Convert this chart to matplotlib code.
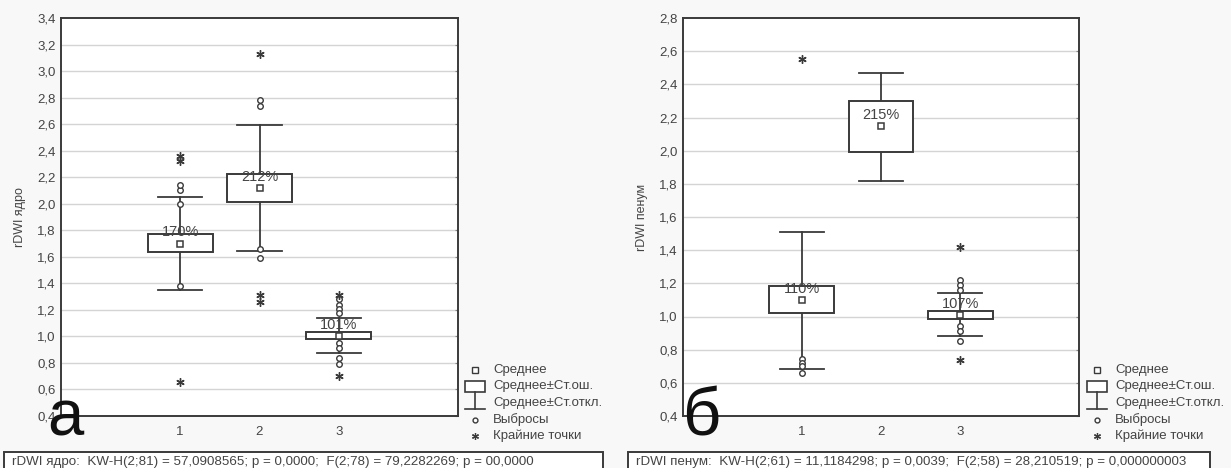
import matplotlib
matplotlib.use("Agg")
import matplotlib.pyplot as plt
from matplotlib.patches import Rectangle

plt.rcParams['font.family'] = ['Liberation Sans', 'DejaVu Sans']

# --- данные ---
groups = [1, 2, 3]

# а) rDWI ядро
core_mean = [1.70, 2.12, 1.005]
core_se_lo = [1.635, 2.01, 0.98]
core_se_hi = [1.775, 2.225, 1.03]
core_sd_lo = [1.35, 1.645, 0.875]
core_sd_hi = [2.05, 2.595, 1.14]
core_outliers = [[2.00, 2.10, 2.14, 1.38],
                 [2.74, 2.78, 1.657, 1.59],
                 [1.28, 1.24, 1.21, 1.18, 0.95, 0.91, 0.84, 0.79]]
core_extremes = [[2.32, 2.36, 0.655],
                 [3.13, 1.31, 1.26],
                 [1.31, 0.70]]
core_labels = ['170%', '212%', '101%']
core_stats = ("rDWI ядро:  KW-H(2;81) = 57,0908565; p = 0,0000;  "
              "F(2;78) = 79,2282269; p = 00,0000")

# б) rDWI пенумбра
pen_mean = [1.10, 2.15, 1.01]
pen_se_lo = [1.02, 1.99, 0.985]
pen_se_hi = [1.185, 2.30, 1.035]
pen_sd_lo = [0.685, 1.82, 0.88]
pen_sd_hi = [1.51, 2.47, 1.14]
pen_outliers = [[0.745, 0.72, 0.70, 0.66],
                [],
                [1.22, 1.19, 1.16, 0.94, 0.91, 0.855]]
pen_extremes = [[2.55],
                [],
                [1.42, 0.74]]
pen_labels = ['110%', '215%', '107%']
pen_stats = ("rDWI пенум:  KW-H(2;61) = 11,1184298; p = 0,0039;  "
             "F(2;58) = 28,210519; p = 0,000000003")

legend_labels = ['Среднее', 'Среднее±Ст.ош.', 'Среднее±Ст.откл.',
                 'Выбросы', 'Крайние точки']

W, H = 1231, 468
LINE = '#3a3a3a'
TXT = '#444444'
STAR = (6, 2, 0)

fig = plt.figure(figsize=(W / 100, H / 100), dpi=100, facecolor='#f8f8f8')


def px(x0, y0, x1, y1):
    return [x0 / W, 1 - y1 / H, (x1 - x0) / W, (y1 - y0) / H]


def draw_panel(ax, mean, se_lo, se_hi, sd_lo, sd_hi, outl, extr, labels,
               ylim, ylabel, yticks):
    ax.set_facecolor('white')
    ax.set_xlim(-0.5, 4.5)
    ax.set_ylim(*ylim)
    ax.set_yticks(yticks)
    ax.set_yticklabels([f"{t:.1f}".replace('.', ',') for t in yticks],
                       fontsize=9.5, color=TXT)
    ax.set_xticks(groups)
    ax.set_xticklabels([str(g) for g in groups], fontsize=9.5, color=TXT)
    ax.tick_params(axis='x', length=0, pad=7)
    ax.tick_params(axis='y', left=False, right=True, direction='in',
                   length=2, color='#888888', pad=4)
    for t in yticks[1:-1]:
        ax.axhline(t, color='#d4d4d4', lw=1.0, zorder=0)
    for s in ax.spines.values():
        s.set_color(LINE)
        s.set_linewidth(1.4)
    ax.set_ylabel(ylabel, fontsize=9, color=TXT, labelpad=8)

    bw, cw = 0.82, 0.56
    for i, g in enumerate(groups):
        # усы (среднее ± ст. откл.)
        ax.plot([g, g], [sd_lo[i], se_lo[i]], color=LINE, lw=1.3, zorder=2)
        ax.plot([g, g], [se_hi[i], sd_hi[i]], color=LINE, lw=1.3, zorder=2)
        ax.plot([g - cw / 2, g + cw / 2], [sd_lo[i]] * 2, color=LINE, lw=1.3, zorder=2)
        ax.plot([g - cw / 2, g + cw / 2], [sd_hi[i]] * 2, color=LINE, lw=1.3, zorder=2)
        # прямоугольник (среднее ± ст. ош.)
        ax.add_patch(Rectangle((g - bw / 2, se_lo[i]), bw, se_hi[i] - se_lo[i],
                               facecolor='white', edgecolor=LINE, lw=1.4, zorder=3))
        # среднее
        ax.plot(g, mean[i], 's', ms=4.5, mfc='white', mec=LINE, mew=1.1, zorder=4)
        ax.annotate(labels[i], (g, mean[i]), xytext=(0, 8), textcoords='offset points',
                    ha='center', va='center', fontsize=10.5, color=TXT, zorder=5)
        # выбросы и крайние точки
        if outl[i]:
            ax.plot([g] * len(outl[i]), outl[i], 'o', ms=4, mfc='white', mec=LINE,
                    mew=1.0, zorder=4)
        if extr[i]:
            ax.plot([g] * len(extr[i]), extr[i], marker=STAR, ls='none', ms=6,
                    color=LINE, mew=1.0, zorder=4)


ax1 = fig.add_axes(px(61, 18, 458, 416))
draw_panel(ax1, core_mean, core_se_lo, core_se_hi, core_sd_lo, core_sd_hi,
           core_outliers, core_extremes, core_labels, (0.4, 3.4), 'rDWI ядро',
           [0.4 + 0.2 * k for k in range(16)])

ax2 = fig.add_axes(px(683, 18, 1079, 416))
draw_panel(ax2, pen_mean, pen_se_lo, pen_se_hi, pen_sd_lo, pen_sd_hi,
           pen_outliers, pen_extremes, pen_labels, (0.4, 2.8), 'rDWI пенум',
           [0.4 + 0.2 * k for k in range(13)])

# накладка в пикселях для легенд, подписей и букв
ov = fig.add_axes([0, 0, 1, 1], facecolor='none')
ov.set_xlim(0, W)
ov.set_ylim(H, 0)
ov.axis('off')


def draw_legend(x, y0):
    ys = [y0 + 16.5 * k for k in range(5)]
    ov.plot(x, ys[0], 's', ms=4, mfc='white', mec=LINE, mew=1.0)
    ov.add_patch(Rectangle((x - 10, ys[1] - 6), 20, 11, facecolor='white',
                           edgecolor=LINE, lw=1.2))
    ov.plot([x, x], [ys[1] + 5, ys[2] + 6], color=LINE, lw=1.2)
    ov.plot([x - 10, x + 10], [ys[2] + 6, ys[2] + 6], color=LINE, lw=1.2)
    ov.plot(x, ys[3], 'o', ms=3.5, mfc='white', mec=LINE, mew=1.0)
    ov.plot(x, ys[4], marker=STAR, ls='none', ms=5, color=LINE, mew=0.9)
    for yy, lab in zip(ys, legend_labels):
        ov.text(x + 18, yy, lab, fontsize=9.5, color=TXT, va='center', ha='left')


draw_legend(475, 370)
draw_legend(1097, 370)

for x0, x1, s in [(4, 603, core_stats), (628, 1210, pen_stats)]:
    ov.add_patch(Rectangle((x0, 452), x1 - x0, 24, facecolor='white',
                           edgecolor=LINE, lw=1.4))
    ov.text(x0 + 8, 462.5, s, fontsize=9.6, color=TXT, va='center', ha='left')

ov.text(47, 435, 'а', fontsize=47, color='#111111', va='baseline', ha='left')
ov.text(682, 435, 'б', fontsize=48, color='#111111', va='baseline', ha='left')

fig.savefig('out.png', dpi=100, facecolor=fig.get_facecolor())
